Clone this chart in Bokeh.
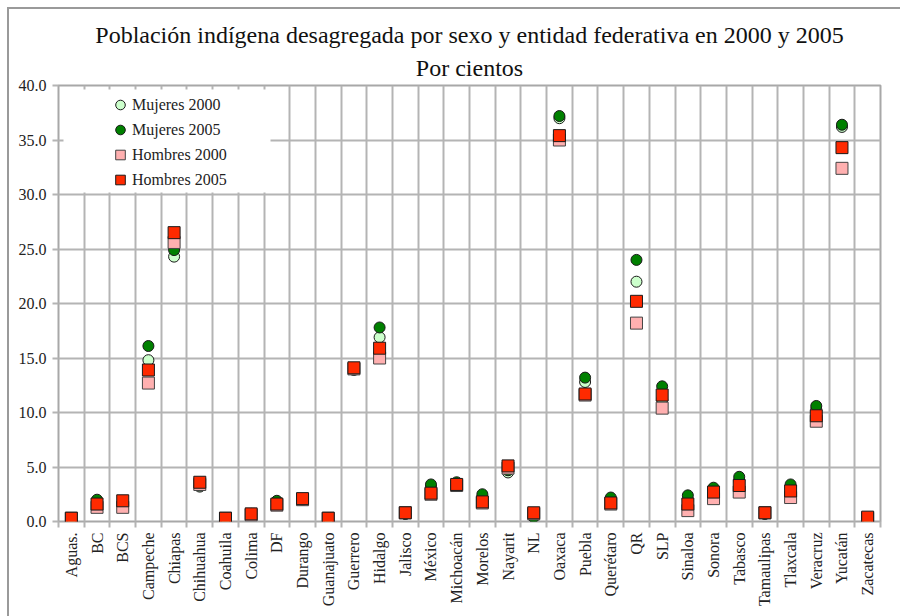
import math
from bokeh.plotting import figure
from bokeh.models import (Range1d, FixedTicker, Legend, LegendItem, Title,
                          PrintfTickFormatter, BoxAnnotation, ColumnDataSource)
from bokeh.embed import file_html
from bokeh.resources import INLINE

estados = ["Aguas.", "BC", "BCS", "Campeche", "Chiapas", "Chihuahua", "Coahuila",
           "Colima", "DF", "Durango", "Guanajuato", "Guerrero", "Hidalgo", "Jalisco",
           "México", "Michoacán", "Morelos", "Nayarit", "NL", "Oaxaca", "Puebla",
           "Querétaro", "QR", "SLP", "Sinaloa", "Sonora", "Tabasco", "Tamaulipas",
           "Tlaxcala", "Veracruz", "Yucatán", "Zacatecas"]

mujeres_2000 = [0.2, 1.8, 1.4, 14.8, 24.3, 3.2, 0.2, 0.6, 1.8, 2.0, 0.2, 13.9, 16.9, 0.7,
                3.2, 3.4, 2.2, 4.5, 0.5, 37.0, 12.8, 2.0, 22.0, 11.2, 2.0, 2.9, 3.8, 0.7,
                3.1, 10.3, 36.2, 0.2]
mujeres_2005 = [0.3, 2.0, 1.7, 16.1, 24.9, 3.3, 0.3, 0.7, 1.9, 2.0, 0.3, 14.0, 17.8, 0.7,
                3.4, 3.6, 2.5, 4.7, 0.4, 37.2, 13.2, 2.2, 24.0, 12.4, 2.4, 3.1, 4.1, 0.7,
                3.4, 10.6, 36.4, 0.3]
hombres_2000 = [0.3, 1.3, 1.3, 12.7, 25.6, 3.4, 0.3, 0.6, 1.5, 2.0, 0.3, 14.0, 15.0, 0.8,
                2.5, 3.3, 1.7, 4.9, 0.7, 35.0, 11.6, 1.6, 18.2, 10.4, 1.0, 2.1, 2.7, 0.8,
                2.2, 9.2, 32.4, 0.3]
hombres_2005 = [0.3, 1.6, 1.9, 13.9, 26.5, 3.6, 0.3, 0.7, 1.6, 2.1, 0.3, 14.1, 15.9, 0.8,
                2.6, 3.4, 1.8, 5.1, 0.8, 35.4, 11.7, 1.7, 20.2, 11.6, 1.6, 2.7, 3.3, 0.8,
                2.8, 9.7, 34.3, 0.4]

series_names = ["Mujeres 2000", "Mujeres 2005", "Hombres 2000", "Hombres 2005"]
y_ticks = [0, 5, 10, 15, 20, 25, 30, 35, 40]
titulo = "Población indígena desagregada por sexo y entidad federativa en 2000 y 2005"
subtitulo = "Por cientos"

SERIF = "Liberation Serif"
GRID = "#b4b4b4"
EDGE = "#9a9a9a"

n = len(estados)
xs = list(range(n))

p = figure(width=900, height=616, output_backend="svg", toolbar_location=None,
           x_range=Range1d(-0.5, n - 0.5), y_range=Range1d(0, 40),
           min_border_left=58, min_border_right=20, min_border_top=85,
           min_border_bottom=95)
p.border_fill_alpha = 0
p.background_fill_color = "white"
# thin page frame (left and top edges) drawn behind the transparent canvas border
p.styles = {
    "background": (f"linear-gradient({EDGE},{EDGE}) 7px 7px / 2px 100% no-repeat, "
                   f"linear-gradient({EDGE},{EDGE}) 7px 7px / 100% 2px no-repeat, white"),
}

# two centred title lines (added closest-first)
p.add_layout(Title(text=subtitulo, align="center", text_font=SERIF,
                   text_font_size="24px", text_font_style="normal",
                   text_color="#111111", standoff=10), "above")
p.add_layout(Title(text=titulo, align="center", text_font=SERIF,
                   text_font_size="24px", text_font_style="normal",
                   text_color="#111111", standoff=0), "above")

p.outline_line_color = "#a8a8a8"
p.outline_line_width = 2

# x axis
p.xaxis.ticker = FixedTicker(ticks=xs, minor_ticks=[i - 0.5 for i in range(n + 1)])
p.xaxis.major_label_overrides = {i: s for i, s in enumerate(estados)}
p.xaxis.major_label_orientation = math.pi / 2
p.xaxis.major_tick_line_color = None
p.xaxis.major_tick_out = 5
p.xaxis.major_tick_in = 0
p.xaxis.minor_tick_line_color = GRID
p.xaxis.minor_tick_line_width = 2
p.xaxis.minor_tick_out = 6
p.xaxis.minor_tick_in = 0
p.xaxis.major_label_standoff = 5
p.xaxis.axis_line_color = None
p.xgrid.ticker = FixedTicker(ticks=[i + 0.5 for i in range(n - 1)])

# y axis
p.yaxis.ticker = FixedTicker(ticks=y_ticks)
p.yaxis.formatter = PrintfTickFormatter(format="%.1f")
p.yaxis.major_tick_line_color = GRID
p.yaxis.major_tick_line_width = 2
p.yaxis.major_tick_out = 6
p.yaxis.major_tick_in = 0
p.yaxis.minor_tick_line_color = None
p.yaxis.major_label_standoff = 6
p.yaxis.axis_line_color = None

for ax in (p.xaxis, p.yaxis):
    ax.major_label_text_font = SERIF
    ax.major_label_text_font_size = "16px"
    ax.major_label_text_color = "#222222"

for g in (p.xgrid, p.ygrid):
    g.grid_line_color = GRID
    g.grid_line_width = 2

src = ColumnDataSource(dict(x=xs, m2000=mujeres_2000, m2005=mujeres_2005,
                            h2000=hombres_2000, h2005=hombres_2005))

r1 = p.scatter("x", "m2000", source=src, marker="circle", size=11,
               fill_color="#ccffcc", line_color="#1a1a1a", line_width=1)
r2 = p.scatter("x", "m2005", source=src, marker="circle", size=11,
               fill_color="#008000", line_color="#1a1a1a", line_width=1)
r3 = p.scatter("x", "h2000", source=src, marker="square", size=12,
               fill_color="#ffb0b0", line_color="#444444", line_width=1)
r4 = p.scatter("x", "h2005", source=src, marker="square", size=12,
               fill_color="#ff2a00", line_color="#1a1a1a", line_width=1)

# white background behind the legend
p.add_layout(BoxAnnotation(left=5, right=212, bottom=329, top=432,
                           left_units="screen", right_units="screen",
                           bottom_units="screen", top_units="screen",
                           fill_color="white", fill_alpha=1, line_color=None))

legend = Legend(items=[LegendItem(label=series_names[i], renderers=[r])
                       for i, r in enumerate([r1, r2, r3, r4])],
                location=(50, 329), padding=0, spacing=0, glyph_width=24,
                glyph_height=25, label_height=25, label_standoff=0,
                label_text_font=SERIF, label_text_font_size="16px",
                label_text_color="#222222", background_fill_color="white",
                background_fill_alpha=1, border_line_color=None)
p.add_layout(legend)

open("out.html", "w").write(file_html(p, INLINE))
